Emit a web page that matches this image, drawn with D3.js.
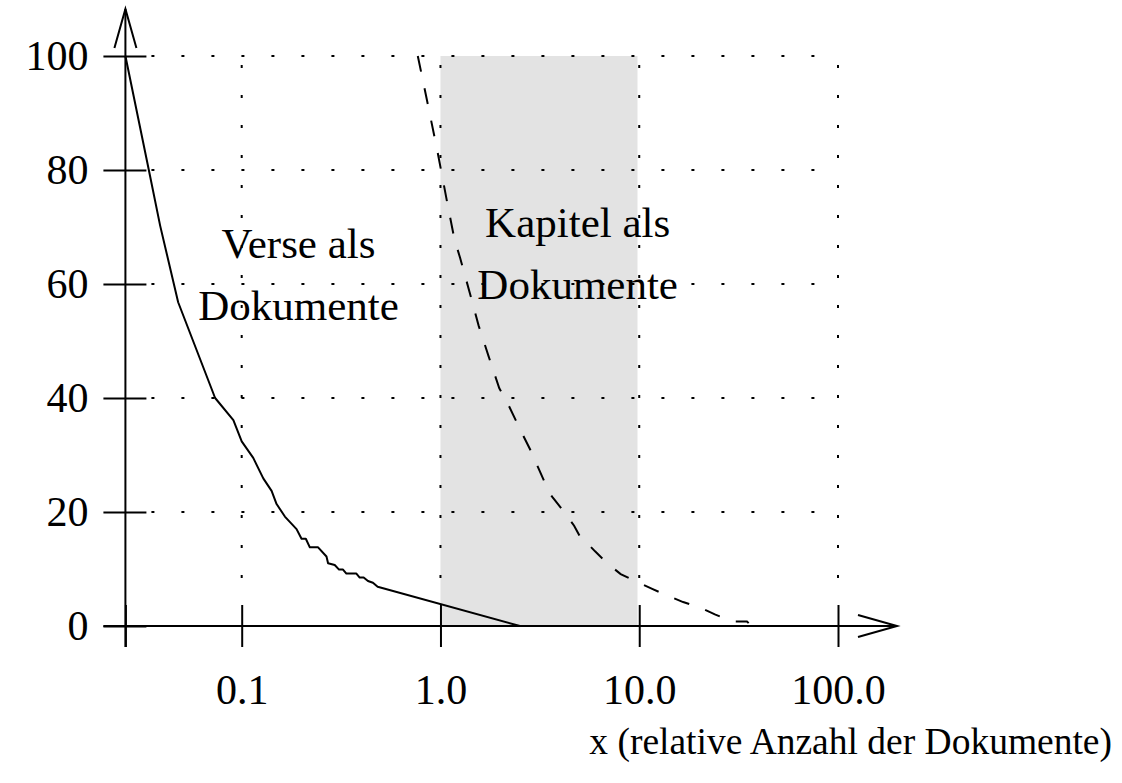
<!DOCTYPE html>
<html><head><meta charset="utf-8">
<script src="https://cdn.jsdelivr.net/npm/d3@7"></script>
<style>
body{margin:0;background:#fff}
svg{display:block}
text{font-family:"Liberation Serif","Times New Roman",serif;fill:#000}
</style>
</head><body>
<svg id="c" width="1122" height="783"></svg>
<script>
// ---- data ----
const xTicks = [0.1, 1, 10, 100];
const xTickLabels = ["0.1", "1.0", "10.0", "100.0"];
const yTicks = [0, 20, 40, 60, 80, 100];
const xMin = 0.026;               // position of the y axis
const shadeRange = [1, 9.8];      // shaded band (x)

// "Verse als Dokumente" (solid)
const verseX = [0.026, 0.0341, 0.0389, 0.0479, 0.0735, 0.0908, 0.1, 0.1143, 0.1284, 0.1414,
  0.1498, 0.1649, 0.1888, 0.2, 0.2102, 0.2202, 0.2423, 0.267, 0.272, 0.2938,
  0.3089, 0.3234, 0.3363, 0.3776, 0.3923, 0.4108, 0.4317, 0.4574, 0.483, 2.51];
const verseY = [100, 80, 70.2, 56.8, 40, 36.1, 32.4, 29.5, 25.9, 23.7,
  21.4, 19.2, 17.0, 15.3, 15.3, 13.8, 13.8, 12.2, 11.0, 10.7,
  9.9, 9.9, 9.2, 9.2, 8.5, 8.5, 7.9, 7.6, 6.9, 0];

// "Kapitel als Dokumente" (dashed)
const kapitelX = [0.769, 0.864, 0.969, 1.088, 1.175, 1.255, 1.398, 1.556, 1.747, 1.977,
  2.176, 2.491, 2.851, 3.364, 3.454, 3.66, 4.191, 4.703, 5.176, 5.484,
  5.995, 6.911, 8.065, 9.772, 11.62, 13.93, 16.63, 20.32, 24.17, 29.29, 34.83, 35.52];
const kapitelY = [100, 91.5, 83.0, 73.8, 67.9, 64.6, 58.7, 52.7, 47.3, 41.7,
  39.1, 34.8, 30.7, 25.0, 23.8, 22.6, 20.0, 17.6, 14.9, 14.5,
  13.1, 11.0, 9.1, 7.7, 6.5, 5.3, 4.2, 3.2, 2.0, 0.8, 0.8, 0.5];

const labelText = [["Verse als", "Dokumente"], ["Kapitel als", "Dokumente"]];
const labelX = [0.193, 4.9];
const labelY = [64.6, 68.2];
const axisTitle = "x (relative Anzahl der Dokumente)";

// ---- scales ----
const svg = d3.select("#c");
const x = d3.scaleLog().domain([0.1, 100]).range([241.7, 838]);
const y = d3.scaleLinear().domain([0, 100]).range([626, 56]);
const x0 = x(xMin), y0 = y(0);

// shaded band
svg.append("rect")
  .attr("x", x(shadeRange[0])).attr("width", x(shadeRange[1]) - x(shadeRange[0]))
  .attr("y", y(100)).attr("height", y(0) - y(100))
  .attr("fill", "#e3e3e3");

// grid
const grid = svg.append("g").attr("stroke", "#000").attr("stroke-width", 2)
  .attr("stroke-dasharray", "3,27");
grid.selectAll("line.h").data(yTicks.filter(d => d > 0)).join("line")
  .attr("x1", x0).attr("x2", x(100)).attr("y1", d => y(d)).attr("y2", d => y(d))
  .attr("stroke-dashoffset", 4);
grid.selectAll("line.v").data(xTicks).join("line")
  .attr("x1", d => x(d)).attr("x2", d => x(d)).attr("y1", y(100)).attr("y2", y0 - 21)
  .attr("stroke-dashoffset", 21);

// curves
const line = d3.line().x(d => x(d[0])).y(d => y(d[1]));
svg.append("path").datum(verseX.map((v, i) => [v, verseY[i]]))
  .attr("d", line).attr("fill", "none").attr("stroke", "#000").attr("stroke-width", 2)
  .attr("stroke-linejoin", "round");
svg.append("path").datum(kapitelX.map((v, i) => [v, kapitelY[i]]))
  .attr("d", line).attr("fill", "none").attr("stroke", "#000").attr("stroke-width", 2)
  .attr("stroke-dasharray", "16,17");

// axes lines with arrows
const ax = svg.append("g").attr("stroke", "#000").attr("stroke-width", 2).attr("fill", "none");
ax.append("line").attr("x1", x0).attr("x2", x0).attr("y1", y0 + 21).attr("y2", 9);
ax.append("polyline").attr("points", `${x0-11},48 ${x0},9 ${x0+11},48`);
const xEnd = 897;
ax.append("line").attr("x1", x0 - 22).attr("x2", xEnd).attr("y1", y0).attr("y2", y0);
ax.append("polyline").attr("points", `${xEnd-39},${y0-11} ${xEnd},${y0} ${xEnd-39},${y0+11}`);

// x axis ticks + labels
const xAxis = d3.axisBottom(x)
  .tickValues([xMin, ...xTicks])
  .tickFormat(d => { const i = xTicks.indexOf(d); return i < 0 ? "" : xTickLabels[i]; })
  .tickSizeInner(42).tickSizeOuter(0).tickPadding(27);
const gx = svg.append("g").attr("transform", `translate(0,${y0 - 21})`).call(xAxis);
gx.select(".domain").remove();
gx.selectAll(".tick line").attr("stroke", "#000").attr("stroke-width", 2);
gx.selectAll(".tick text").attr("font-size", 42).attr("font-family", "Liberation Serif").attr("fill", "#000");

// y axis ticks + labels
const yAxis = d3.axisLeft(y).tickValues(yTicks).tickFormat(d3.format("d"))
  .tickSizeInner(43).tickSizeOuter(0).tickPadding(15);
const gy = svg.append("g").attr("transform", `translate(${x0 + 21},0)`).call(yAxis);
gy.select(".domain").remove();
gy.selectAll(".tick line").attr("stroke", "#000").attr("stroke-width", 2);
gy.selectAll(".tick text").attr("font-size", 42).attr("font-family", "Liberation Serif").attr("fill", "#000");

// annotations
labelText.forEach((lines, i) => {
  const t = svg.append("text").attr("text-anchor", "middle").attr("font-size", 43)
    .attr("x", x(labelX[i])).attr("y", y(labelY[i]));
  lines.forEach((s, j) => t.append("tspan").attr("x", x(labelX[i])).attr("dy", j ? 62 : 0).text(s));
});

// axis title
svg.append("text").attr("x", 1112).attr("y", 754).attr("text-anchor", "end")
  .attr("font-size", 37.5).text(axisTitle);
</script>
</body></html>
